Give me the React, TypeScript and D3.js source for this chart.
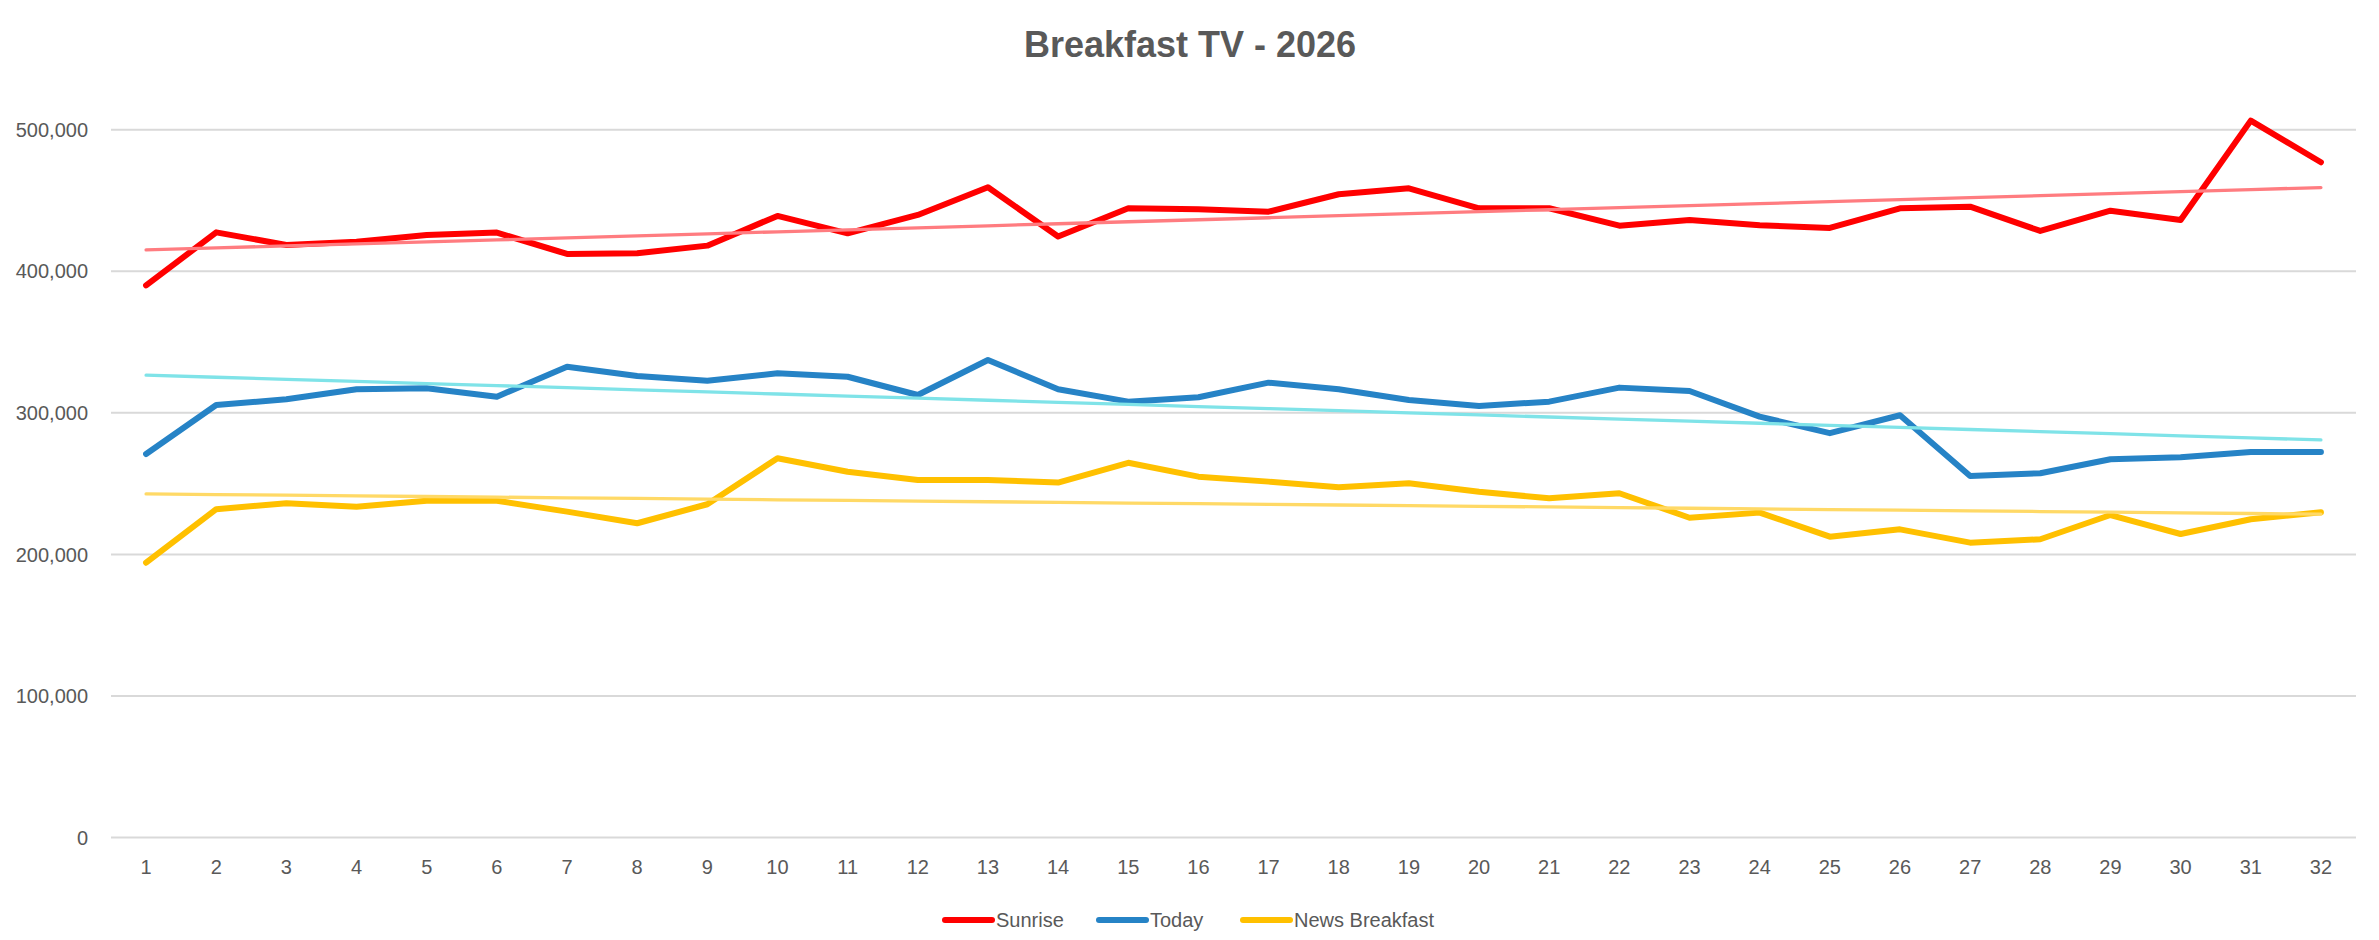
import React from "react";
import * as d3 from "d3";

const width = 2379;
const height = 940;

const title = "Breakfast TV - 2026";
const days = d3.range(1, 33);
const seriesNames = ["Sunrise", "Today", "News Breakfast"];
const yTicks = [0, 100000, 200000, 300000, 400000, 500000];

const sunrise = [
  390000, 427500, 418600, 420900, 425600, 427300, 412200, 412700, 418100, 439100,
  426800, 439800, 459300, 424500, 444500, 443800, 442100, 454400, 458600, 444500,
  444500, 432200, 436200, 432500, 430600, 444500, 445600, 428500, 442800, 436200,
  506400, 477000,
];
const today = [
  270900, 305500, 309600, 316600, 317300, 311400, 332600, 326000, 322700, 327900,
  325500, 312600, 337300, 316600, 307900, 311000, 321300, 316600, 309100, 304800,
  307900, 317800, 315400, 297300, 285600, 298300, 255400, 257300, 267200, 268600,
  272300, 272300,
];
const newsBreakfast = [
  194100, 231900, 236100, 233700, 237900, 237900, 230200, 222000, 235400, 267900,
  258400, 252600, 252600, 250700, 264700, 254900, 251400, 247400, 250200, 244300,
  239600, 243200, 225900, 229500, 212500, 217700, 208300, 210700, 227800, 214400,
  224800, 229700,
];

const lineColors = ["#FF0000", "#2683C6", "#FFC000"];
const trendColors = ["#FF7C80", "#7FE3E8", "#FFD966"];

const font = "'Liberation Sans', Arial, sans-serif";
const textColor = "#595959";

// least-squares fit over the day index, like Excel's linear trendline
function trend(values: number[]) {
  const xs = days;
  const mx = d3.mean(xs)!;
  const my = d3.mean(values)!;
  let num = 0;
  let den = 0;
  xs.forEach((x, i) => {
    num += (x - mx) * (values[i] - my);
    den += (x - mx) * (x - mx);
  });
  const slope = num / den;
  return xs.map((x) => my + slope * (x - mx));
}

export default function App() {
  const plotLeft = 111;
  const plotRight = 2356;
  const x = d3
    .scaleBand<number>()
    .domain(days)
    .range([plotLeft, plotRight]);
  const cx = (d: number) => x(d)! + x.bandwidth() / 2;
  const y = d3.scaleLinear().domain([0, 500000]).range([837.5, 129.7]);

  const allSeries = [sunrise, today, newsBreakfast];
  const line = d3
    .line<number>()
    .x((_, i) => cx(days[i]))
    .y((v) => y(v));

  const fmt = d3.format(",");
  const legendX = [942, 1096, 1240];

  return (
    <svg
      width={width}
      height={height}
      style={{ position: "absolute", left: 0, top: 0, background: "#fff" }}
      fontFamily={font}
    >
      <rect width={width} height={height} fill="#fff" />
      <text
        x={1190}
        y={57}
        textAnchor="middle"
        fontSize={36}
        fontWeight="bold"
        fill={textColor}
      >
        {title}
      </text>

      {yTicks.map((t) => (
        <g key={t}>
          <line
            x1={plotLeft}
            x2={plotRight}
            y1={y(t)}
            y2={y(t)}
            stroke="#D9D9D9"
            strokeWidth={2}
          />
          <text
            x={88}
            y={y(t)}
            dy="0.36em"
            textAnchor="end"
            fontSize={20}
            fill={textColor}
          >
            {fmt(t)}
          </text>
        </g>
      ))}

      {days.map((d) => (
        <text
          key={d}
          x={cx(d)}
          y={874}
          textAnchor="middle"
          fontSize={20}
          fill={textColor}
        >
          {d}
        </text>
      ))}

      {allSeries.map((s, i) => (
        <path
          key={seriesNames[i]}
          d={line(s)!}
          fill="none"
          stroke={lineColors[i]}
          strokeWidth={6}
          strokeLinejoin="round"
          strokeLinecap="round"
        />
      ))}

      {allSeries.map((s, i) => (
        <path
          key={seriesNames[i] + "-trend"}
          d={line(trend(s))!}
          fill="none"
          stroke={trendColors[i]}
          strokeWidth={3.3}
          strokeLinecap="round"
        />
      ))}

      {seriesNames.map((name, i) => (
        <g key={name} transform={`translate(${legendX[i]},920)`}>
          <line
            x1={3}
            x2={50}
            y1={0}
            y2={0}
            stroke={lineColors[i]}
            strokeWidth={6}
            strokeLinecap="round"
          />
          <text x={54} y={7} fontSize={20} fill={textColor}>
            {name}
          </text>
        </g>
      ))}
    </svg>
  );
}
